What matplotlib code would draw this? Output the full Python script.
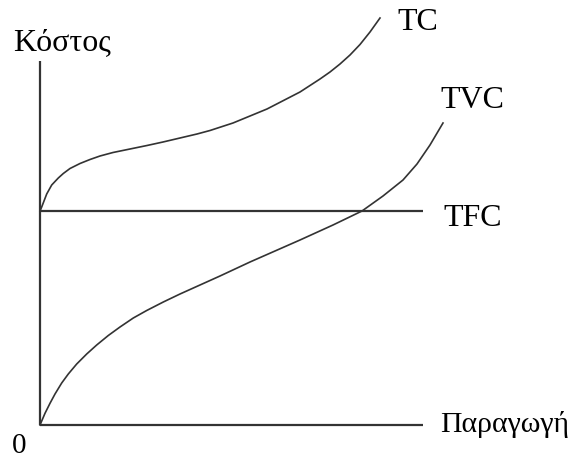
import matplotlib.pyplot as plt

plt.rcParams['font.family'] = ['Liberation Serif', 'DejaVu Serif']

# curves (quantity, cost)
tc_x = [0, 1.7, 6.7, 11.7, 18.3, 23.3, 30, 40, 50, 60, 73, 90, 107, 123, 140, 157, 170,
        193, 227, 260, 270, 280, 290, 300, 310, 320, 330, 340]
tc_y = [214, 218, 231, 240, 247, 251.5, 256.5, 261.5, 265.5, 269, 272.5, 276, 279.5, 283, 287, 291, 294.5,
        302, 316, 333, 339.5, 346, 353, 361, 370, 380.5, 393, 407]

tvc_x = [0, 5, 10, 15, 21.7, 28.3, 36.7, 46.7, 56.7, 68.3, 80, 93.3, 106.7, 123.3, 140, 160, 180,
         210, 260, 293, 322, 343, 363, 377, 390, 403]
tvc_y = [0, 11.7, 21.7, 31, 42, 51, 61, 71, 80, 89.5, 98, 107, 114.5, 123, 131, 140, 149,
         163, 185, 200, 214, 229, 245, 261, 280, 302]

tfc = 214
x_end = 383
y_top = 364

fig = plt.figure(figsize=(5.76, 4.59), dpi=100)
ax = fig.add_axes([0, 0, 1, 1])
ax.set_xlim(-40, 536)
ax.set_ylim(-34, 425)
ax.axis('off')

col = '#333333'
ax.plot([0, 0], [0, y_top], color=col, lw=1.6, solid_capstyle='butt')
ax.plot([0, x_end], [0, 0], color=col, lw=1.6, solid_capstyle='butt')
ax.plot([0, x_end], [tfc, tfc], color=col, lw=1.6, solid_capstyle='butt')
ax.plot(tc_x, tc_y, color=col, lw=1.2)
ax.plot(tvc_x, tvc_y, color=col, lw=1.2)

fs = 23
ax.text(-27, 382, 'Κόστος', fontsize=fs, va='center', ha='left')
ax.text(357, 403, 'TC', fontsize=fs, va='center', ha='left')
ax.text(400, 325, 'TVC', fontsize=fs, va='center', ha='left')
ax.text(403, 207, 'TFC', fontsize=fs, va='center', ha='left')
ax.text(400, 1, 'Παραγωγή', fontsize=21.5, va='center', ha='left')
ax.text(-20.5, -21, '0', fontsize=21, va='center', ha='center')

fig.savefig('out.png', dpi=100)
